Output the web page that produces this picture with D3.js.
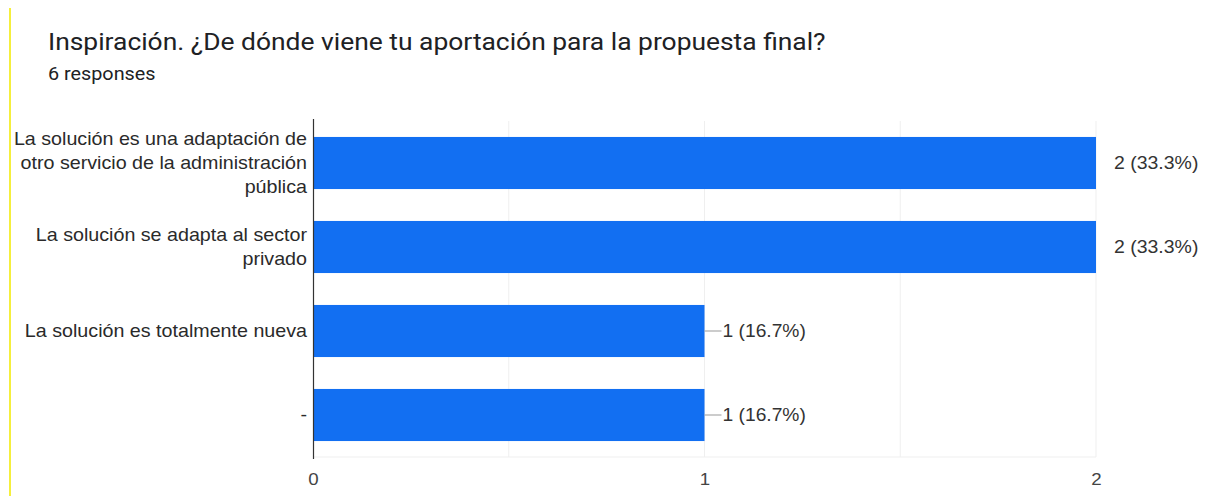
<!DOCTYPE html>
<html><head><meta charset="utf-8">
<script src="https://cdn.jsdelivr.net/npm/d3@7"></script>
<style>body{margin:0;background:#fff;}svg{display:block;}</style>
</head><body>
<svg id="c" width="1210" height="496"></svg>
<script>
const categories = [
  ["La solución es una adaptación de","otro servicio de la administración","pública"],
  ["La solución se adapta al sector","privado"],
  ["La solución es totalmente nueva"],
  ["-"]
];
const values = [2, 2, 1, 1];
const valueLabels = ["2 (33.3%)", "2 (33.3%)", "1 (16.7%)", "1 (16.7%)"];
const tickValues = [0, 1, 2];
const title = "Inspiración. ¿De dónde viene tu aportación para la propuesta final?";
const subtitle = "6 responses";

(function () {
const SX = 1.1;
const ARIAL = "'Liberation Sans', Arial, sans-serif";
const svg = d3.select("#c");
svg.append("rect").attr("x", 9).attr("y", 8).attr("width", 2).attr("height", 488).attr("fill", "#f5ef3c");

function stext(px, py, str, size, fam, fill, anchor) {
  return svg.append("text").attr("transform", `translate(${px},${py}) scale(${SX},1)`)
    .attr("font-family", fam).attr("font-size", size).attr("fill", fill)
    .attr("text-anchor", anchor || "start").text(str);
}

stext(48, 50, title, 24, "Roboto, sans-serif", "#202124");
stext(48, 80, subtitle, 18, "Roboto, sans-serif", "#202124");

const pl = 313, pr = 1096, pt = 121, pb = 457;
const x = d3.scaleLinear().domain([0, 2]).range([pl, pr]);
const y = d3.scaleBand().domain(d3.range(values.length)).range([pt, pb]).paddingInner(0.38).paddingOuter(0.19);

const g = svg.append("g");
g.selectAll("line.grid").data(d3.range(0.5, 2.01, 0.5)).enter().append("line")
  .attr("x1", d => x(d)).attr("x2", d => x(d)).attr("y1", pt).attr("y2", pb)
  .attr("stroke", "#efefef").attr("stroke-width", 1);
g.append("line").attr("x1", pl).attr("x2", pr).attr("y1", pb).attr("y2", pb)
  .attr("stroke", "#efefef");

g.selectAll("rect.bar").data(values).enter().append("rect")
  .attr("x", x(0)).attr("y", (d, i) => y(i)).attr("width", d => x(d) - x(0)).attr("height", y.bandwidth())
  .attr("fill", "#126ff2");

g.append("line").attr("x1", pl + 0.5).attr("x2", pl + 0.5).attr("y1", pt - 2).attr("y2", pb + 2)
  .attr("stroke", "#333").attr("stroke-width", 1.2);

const xAxis = d3.axisBottom(x).tickValues(tickValues).tickFormat(d3.format("d")).tickSize(0).tickPadding(0);
const ax = svg.append("g").attr("transform", `translate(0,${pb})`).call(xAxis);
ax.select(".domain").remove();
ax.selectAll("text").attr("font-family", ARIAL).attr("font-size", 17).attr("fill", "#444")
  .attr("dy", null).attr("y", 0)
  .attr("transform", `translate(0,28) scale(${SX},1)`);

const lh = 24;
categories.forEach((lines, i) => {
  const cy = y(i) + y.bandwidth() / 2;
  lines.forEach((l, j) => {
    stext(307, cy + (j - (lines.length - 1) / 2) * lh + 6, l, 17.9, ARIAL, "#2a2a2a", "end");
  });
});

values.forEach((v, i) => {
  const cy = y(i) + y.bandwidth() / 2;
  const full = x(v) >= pr - 1;
  if (!full) {
    svg.append("line").attr("x1", x(v)).attr("x2", x(v) + 17).attr("y1", cy).attr("y2", cy).attr("stroke", "#999");
    stext(x(v) + 18, cy + 6, valueLabels[i], 17.5, ARIAL, "#333");
  } else {
    stext(x(v) + 18, cy + 6, valueLabels[i], 17.7, ARIAL, "#333");
  }
});
})();
</script>
</body></html>
